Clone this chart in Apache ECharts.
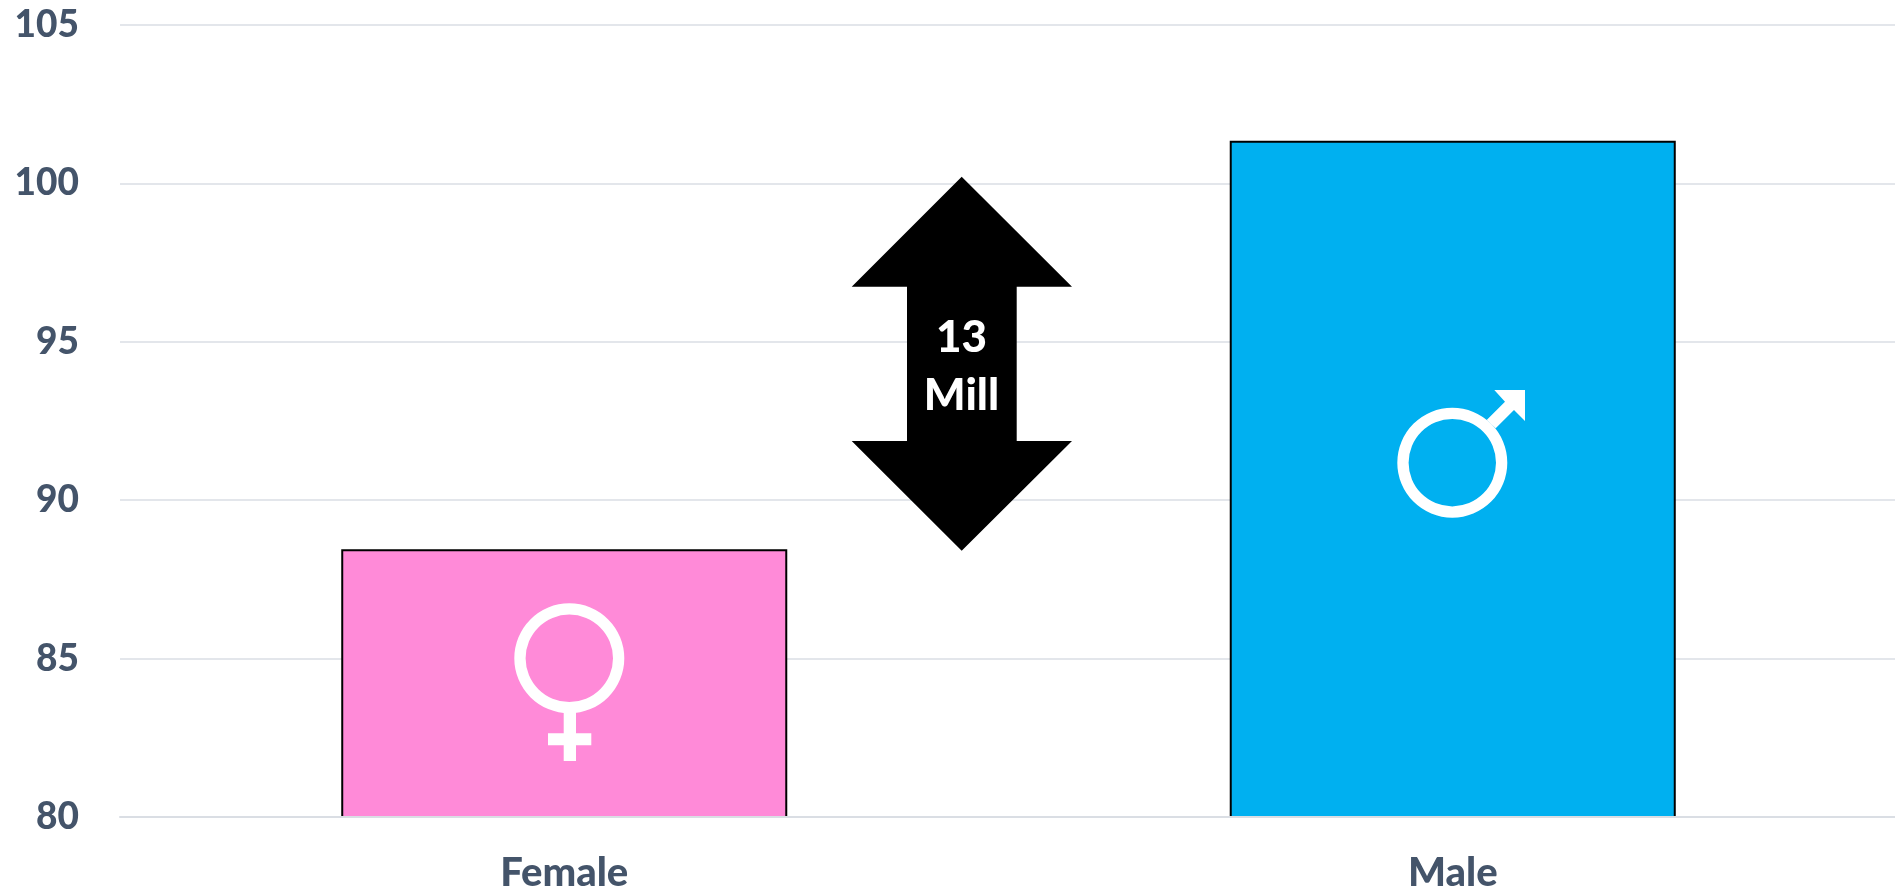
<!DOCTYPE html>
<html>
<head>
<meta charset="utf-8">
<style>html,body{margin:0;padding:0;background:#fff}#c{width:1895px;height:890px}</style>
<script src="https://cdn.jsdelivr.net/npm/echarts@6/dist/echarts.min.js"></script>
</head>
<body>
<div id="c"></div>
<script>
const categories = ['Female', 'Male'];
const populationValues = [88.45, 101.35];
const barColors = ['#FF8AD8', '#00B0F0'];
const gapLabel = ['13', 'Mill'];

const textColor = '#44546A';
const fontFamily = 'Lato, "Open Sans", sans-serif';
const chart = echarts.init(document.getElementById('c'), null, {renderer: 'canvas'});
const white = {fill: '#fff'};

chart.setOption({
  animation: false,
  backgroundColor: '#fff',
  grid: {left: 120, width: 1777, top: 25, height: 792, outerBoundsMode: 'none'},
  xAxis: {
    type: 'category',
    data: categories,
    z: 5,
    axisTick: {show: false},
    axisLine: {lineStyle: {color: '#DADEE4', width: 2}},
    axisLabel: {color: textColor, fontFamily, fontWeight: 900, fontSize: 40, margin: 36}
  },
  yAxis: {
    type: 'value',
    min: 80,
    max: 105,
    interval: 5,
    axisLine: {show: false},
    axisTick: {show: false},
    splitLine: {lineStyle: {color: '#E3E6EB', width: 2}},
    axisLabel: {color: textColor, fontFamily, fontWeight: 900, fontSize: 37, margin: 41}
  },
  series: [{
    type: 'bar',
    barWidth: '50.2%',
    data: populationValues.map((v, i) => ({
      value: v,
      itemStyle: {color: barColors[i], borderColor: '#000', borderWidth: 2}
    }))
  }],
  graphic: [
    {type: 'polygon', z: 10, shape: {points: [
      [961.7,176.7],[1072,286.7],[1016.7,286.7],[1016.7,441],[1072,441],[961.7,550.7],
      [851.7,441],[907,441],[907,286.7],[851.7,286.7]]}, style: {fill: '#000'}},
    {type: 'text', z: 11, x: 961.5, y: 338, style: {text: gapLabel[0], fill: '#fff', font: '900 44px ' + fontFamily, textAlign: 'center', textVerticalAlign: 'middle'}},
    {type: 'text', z: 11, x: 961.5, y: 396, style: {text: gapLabel[1], fill: '#fff', font: '900 44px ' + fontFamily, textAlign: 'center', textVerticalAlign: 'middle'}},
    // female symbol
    {type: 'ring', z: 10, shape: {cx: 569.3, cy: 658.3, r: 55, r0: 43.7}, style: white},
    {type: 'rect', z: 10, shape: {x: 563.7, y: 712, width: 12.3, height: 49}, style: white},
    {type: 'rect', z: 10, shape: {x: 548, y: 733.3, width: 43.3, height: 12}, style: white},
    // male symbol
    {type: 'ring', z: 10, shape: {cx: 1452.3, cy: 462.7, r: 55, r0: 43.7}, style: white},
    {type: 'polygon', z: 10, shape: {points: [
      [1525,390],[1494.3,390],[1505,401.7],[1486.7,420],[1495.7,428.3],[1514,410],[1525,421]]}, style: white}
  ]
});
</script>
</body>
</html>
